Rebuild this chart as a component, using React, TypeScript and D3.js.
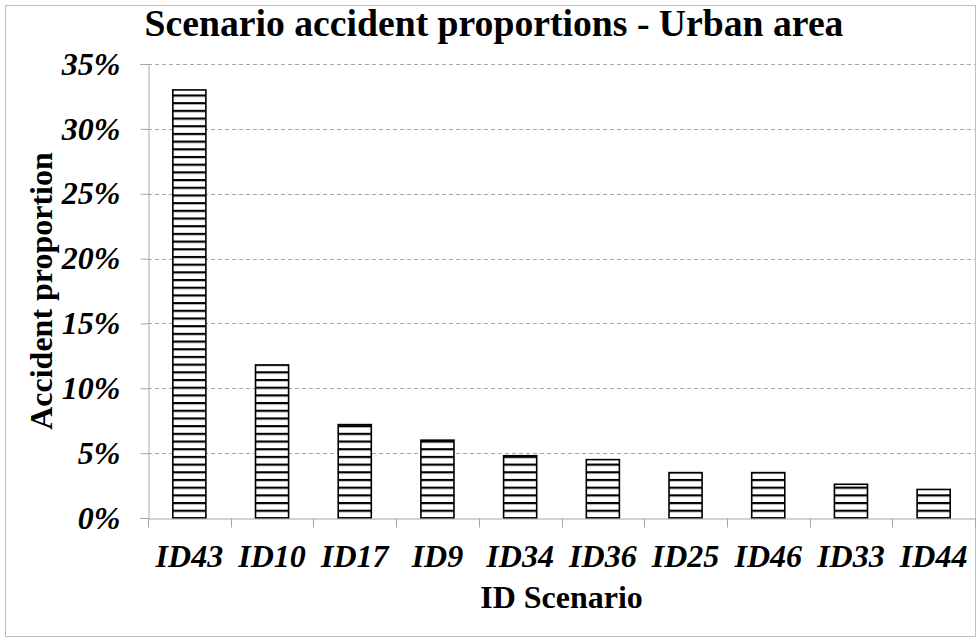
import React, { useEffect, useRef } from "react";
import * as d3 from "d3";

const categories = ["ID43", "ID10", "ID17", "ID9", "ID34", "ID36", "ID25", "ID46", "ID33", "ID44"];
const proportions = [0.33, 0.118, 0.072, 0.06, 0.048, 0.045, 0.035, 0.035, 0.026, 0.022];
const yTicks = [0, 0.05, 0.1, 0.15, 0.2, 0.25, 0.3, 0.35];

const App = () => {
  const svgRef = useRef<SVGSVGElement>(null);

  useEffect(() => {
    const width = 979,
      height = 639;
    const margin = { top: 64, right: 4, bottom: 121, left: 148 };
    const font = "'Liberation Serif', 'Times New Roman', serif";

    const svg = d3.select(svgRef.current).attr("width", width).attr("height", height);
    svg.selectAll("*").remove();

    // stripe fill
    const pat = svg
      .append("defs")
      .append("pattern")
      .attr("id", "hstripes")
      .attr("patternUnits", "userSpaceOnUse")
      .attr("width", 10)
      .attr("height", 7.69)
      .attr("y", 510.7 - 1);
    pat.append("rect").attr("width", 10).attr("height", 7.69).attr("fill", "#fff");
    pat.append("rect").attr("y", 0).attr("width", 10).attr("height", 2.2).attr("fill", "#000");

    // outer frame
    svg
      .append("rect")
      .attr("x", 5.5)
      .attr("y", 5.5)
      .attr("width", 970)
      .attr("height", 631)
      .attr("fill", "#fff")
      .attr("stroke", "#bfbfbf");

    const x = d3
      .scaleBand()
      .domain(categories)
      .range([margin.left, width - margin.right])
      .padding(0);

    const y = d3
      .scaleLinear()
      .domain([0, 0.35])
      .range([height - margin.bottom, margin.top]);

    // gridlines
    svg
      .append("g")
      .selectAll("line")
      .data(yTicks.filter((d) => d > 0))
      .enter()
      .append("line")
      .attr("x1", margin.left)
      .attr("x2", width - margin.right)
      .attr("y1", (d) => Math.round(y(d)) + 0.5)
      .attr("y2", (d) => Math.round(y(d)) + 0.5)
      .attr("stroke", "#a6a6a6")
      .attr("stroke-dasharray", "4,3");

    // y axis
    const yAxis = svg
      .append("g")
      .attr("transform", `translate(${margin.left + 0.5},0)`)
      .call(
        d3
          .axisLeft(y)
          .tickValues(yTicks)
          .tickFormat(d3.format(".0%"))
          .tickSize(8)
          .tickPadding(20)
      );
    yAxis.select(".domain").attr("stroke", "#a6a6a6");
    yAxis.selectAll(".tick line").attr("stroke", "#a6a6a6");
    yAxis
      .selectAll("text")
      .attr("font-family", font)
      .attr("font-size", 32)
      .attr("font-weight", "bold")
      .attr("font-style", "italic")
      .attr("fill", "#000");

    // bars
    const barW = x.bandwidth() * 0.4;
    svg
      .selectAll(".bar")
      .data(proportions)
      .enter()
      .append("rect")
      .attr("class", "bar")
      .attr("x", (d, i) => (x(categories[i]) as number) + (x.bandwidth() - barW) / 2)
      .attr("y", (d) => y(d))
      .attr("width", barW)
      .attr("height", (d) => y(0) - y(d))
      .attr("fill", "url(#hstripes)")
      .attr("stroke", "#000")
      .attr("stroke-width", 1.6);

    // x axis
    const xAxis = svg
      .append("g")
      .attr("transform", `translate(0,${Math.round(y(0)) + 0.5})`)
      .call(d3.axisBottom(x).tickSize(0).tickPadding(48));
    xAxis.select(".domain").attr("stroke", "#a6a6a6");
    xAxis
      .selectAll("text")
      .attr("font-family", font)
      .attr("font-size", 32)
      .attr("font-weight", "bold")
      .attr("font-style", "italic")
      .attr("fill", "#000")
      .attr("dy", 0);
    // boundary ticks
    const bounds = categories.map((c) => x(c) as number).concat([width - margin.right]);
    xAxis
      .selectAll(".bound")
      .data(bounds)
      .enter()
      .append("line")
      .attr("class", "bound")
      .attr("x1", (d) => Math.round(d) + 0.5)
      .attr("x2", (d) => Math.round(d) + 0.5)
      .attr("y1", 0)
      .attr("y2", 9)
      .attr("stroke", "#a6a6a6");

    // titles
    svg
      .append("text")
      .attr("x", 494)
      .attr("y", 36)
      .attr("text-anchor", "middle")
      .attr("font-family", font)
      .attr("font-size", 37.7)
      .attr("font-weight", "bold")
      .text("Scenario accident proportions - Urban area");

    svg
      .append("text")
      .attr("x", (margin.left + width - margin.right) / 2)
      .attr("y", 608)
      .attr("text-anchor", "middle")
      .attr("font-family", font)
      .attr("font-size", 32)
      .attr("font-weight", "bold")
      .text("ID Scenario");

    svg
      .append("text")
      .attr("transform", `translate(52,${(y(0) + y(0.35)) / 2}) rotate(-90)`)
      .attr("text-anchor", "middle")
      .attr("font-family", font)
      .attr("font-size", 32)
      .attr("font-weight", "bold")
      .text("Accident proportion");
  }, []);

  return <svg ref={svgRef} style={{ position: "absolute", left: 0, top: 0 }}></svg>;
};

export default App;
